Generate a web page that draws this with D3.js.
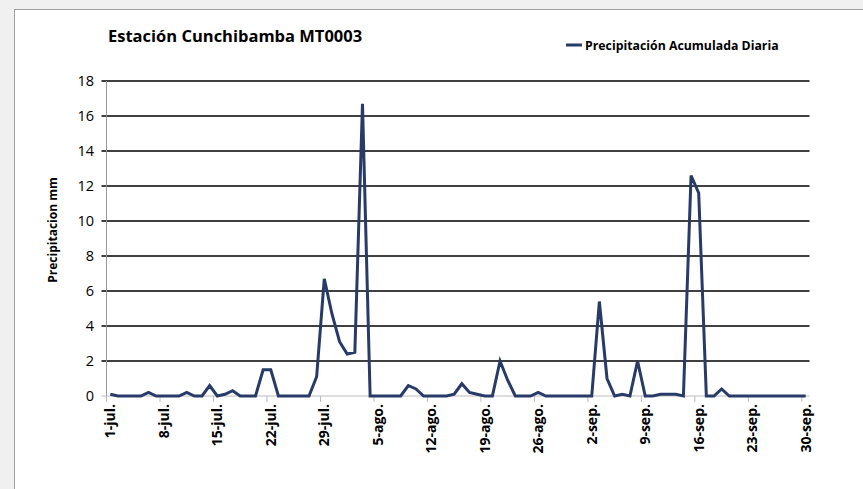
<!DOCTYPE html>
<html>
<head>
<meta charset="utf-8">
<script src="https://cdn.jsdelivr.net/npm/d3@7"></script>
<style>
  body { margin: 0; background: #f0f0f0; }
  svg { display: block; }
  text { font-family: "Open Sans", "Noto Sans", sans-serif; fill: #000; }
</style>
</head>
<body>
<svg width="863" height="489"></svg>
<script>
// daily precipitation, 1-jul .. 30-sep (92 days)
const julio = [0.1, 0, 0, 0, 0, 0.2, 0, 0, 0, 0, 0.2, 0, 0, 0.6, 0, 0.1, 0.3, 0, 0, 0,
  1.5, 1.5, 0, 0, 0, 0, 0, 1.1, 6.7, 4.7, 3.1];
const agosto = [2.4, 2.5, 16.7, 0, 0, 0, 0, 0, 0.6, 0.4, 0, 0, 0, 0, 0.1, 0.7, 0.2, 0.1, 0, 0,
  2.0, 0.9, 0, 0, 0, 0.2, 0, 0, 0, 0, 0];
const septiembre = [0, 0, 5.4, 1.0, 0, 0.1, 0, 2.0, 0, 0, 0.1, 0.1, 0.1, 0, 12.6, 11.6, 0, 0, 0.4, 0,
  0, 0, 0, 0, 0, 0, 0, 0, 0, 0];
const tickLabels = ["1-jul.", "8-jul.", "15-jul.", "22-jul.", "29-jul.", "5-ago.", "12-ago.",
  "19-ago.", "26-ago.", "2-sep.", "9-sep.", "16-sep.", "23-sep.", "30-sep."];
const yTicks = [0, 2, 4, 6, 8, 10, 12, 14, 16, 18];
const seriesName = "Precipitación Acumulada Diaria";

const values = julio.concat(agosto, septiembre);

const svg = d3.select("svg");

// chart area
svg.append("rect")
  .attr("x", 14.5).attr("y", 9.5)
  .attr("width", 900).attr("height", 600)
  .attr("fill", "#fff").attr("stroke", "#a0a0a0");

const plotL = 106.5, plotR = 809.5, plotT = 81, plotB = 396;
const x = d3.scaleLinear().domain([-0.5, values.length - 0.5]).range([plotL, plotR]);
const y = d3.scaleLinear().domain([0, 18]).range([plotB, plotT]);

// gridlines + y ticks
svg.append("g")
  .selectAll("line")
  .data(yTicks.filter(d => d > 0))
  .join("line")
  .attr("x1", plotL - 5).attr("x2", plotR)
  .attr("y1", d => y(d)).attr("y2", d => y(d))
  .attr("stroke", "#000").attr("stroke-width", 1.3);

// axes
svg.append("line")
  .attr("x1", plotL).attr("x2", plotL).attr("y1", plotT).attr("y2", plotB)
  .attr("stroke", "#999");
svg.append("line")
  .attr("x1", plotL - 5).attr("x2", plotR).attr("y1", plotB).attr("y2", plotB)
  .attr("stroke", "#bbb");

svg.append("g")
  .selectAll("text")
  .data(yTicks)
  .join("text")
  .attr("x", 94).attr("y", d => y(d))
  .attr("dy", "0.35em")
  .attr("text-anchor", "end")
  .attr("font-size", 14.5)
  .text(d => d);

// x ticks every 7 days
const tickIdx = tickLabels.map((d, i) => i * 7);
svg.append("g")
  .selectAll("line")
  .data(tickIdx)
  .join("line")
  .attr("x1", d => x(d - 0.5)).attr("x2", d => x(d - 0.5))
  .attr("y1", plotB).attr("y2", plotB + 6)
  .attr("stroke", "#bbb");

svg.append("g")
  .selectAll("text")
  .data(tickIdx)
  .join("text")
  .attr("transform", d => `translate(${x(d) + 5},${plotB + 8}) rotate(-90)`)
  .attr("text-anchor", "end")
  .attr("font-size", 14)
  .attr("font-weight", "bold")
  .text((d, i) => tickLabels[i]);

// series line
const line = d3.line()
  .x((d, i) => x(i))
  .y(d => y(d));

svg.append("path")
  .datum(values)
  .attr("d", line)
  .attr("fill", "none")
  .attr("stroke", "#283b68")
  .attr("stroke-width", 3)
  .attr("stroke-linejoin", "miter");

// title
svg.append("text")
  .attr("x", 108).attr("y", 42)
  .attr("font-size", 16.5)
  .attr("font-weight", "bold")
  .text("Estación Cunchibamba MT0003");

// y axis title
svg.append("text")
  .attr("transform", "translate(57,230) rotate(-90)")
  .attr("text-anchor", "middle")
  .attr("font-size", 12)
  .attr("font-weight", "bold")
  .text("Precipitacion mm");

// legend
svg.append("line")
  .attr("x1", 566).attr("x2", 582).attr("y1", 45).attr("y2", 45)
  .attr("stroke", "#283b68").attr("stroke-width", 3);
svg.append("text")
  .attr("x", 585).attr("y", 49.5)
  .attr("font-size", 12.3)
  .attr("font-weight", "bold")
  .text(seriesName);
</script>
</body>
</html>
